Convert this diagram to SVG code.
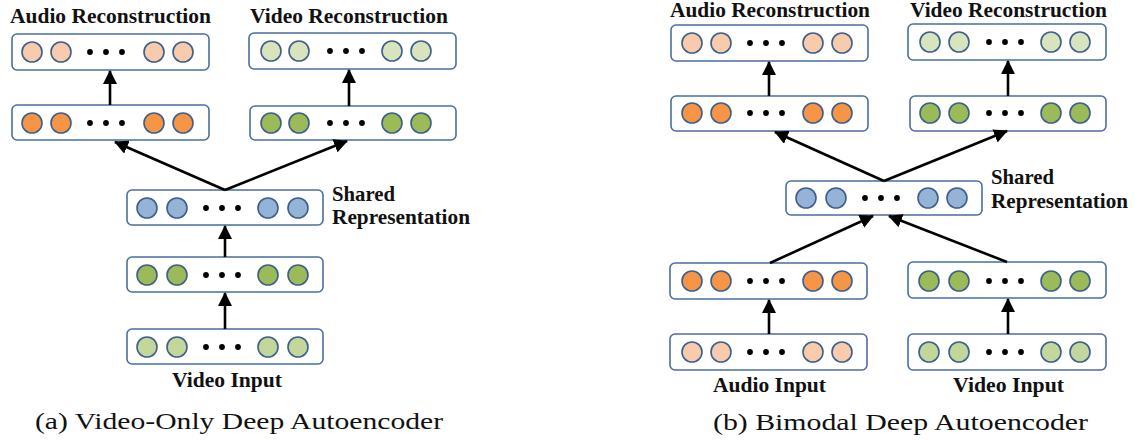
<svg xmlns="http://www.w3.org/2000/svg" width="1135" height="440" viewBox="0 0 1135 440">
<style>
.box{fill:#ffffff;stroke:#4a6e9e;stroke-width:1.6}
.c{stroke:#3e5f8c;stroke-width:1.6}
.lo{fill:#f8cbad}
.o{fill:#f69546}
.lg{fill:#d8e4bd}
.g{fill:#9bbb59}
.ig{fill:#c3d69b}
.b{fill:#95b3d7}
.lbl{font-family:"Liberation Serif",serif;font-weight:bold;font-size:20px;fill:#111}
.cap{font-family:"Liberation Serif",serif;font-size:24px;fill:#111}
.arr{stroke:#000;stroke-width:2.6;fill:none;marker-end:url(#ah)}
</style>
<defs>
<marker id="ah" markerUnits="userSpaceOnUse" markerWidth="14" markerHeight="14" refX="13" refY="7" orient="auto" viewBox="0 0 14 14">
<path d="M0,0 L14,7 L0,14 z" fill="#000"/>
</marker>
<g id="dots"><circle cx="0" cy="0" r="2.9"/><circle cx="16" cy="0" r="2.9"/><circle cx="32" cy="0" r="2.9"/></g>
</defs>

<!-- Left: Video-only -->
<text class="lbl" x="10" y="23" textLength="201" lengthAdjust="spacingAndGlyphs">Audio Reconstruction</text>
<text class="lbl" x="250" y="23" textLength="198" lengthAdjust="spacingAndGlyphs">Video Reconstruction</text>

<g id="a-audio-recon">
<rect class="box" x="12" y="34" width="197" height="36" rx="5"/>
<g class="c lo"><circle cx="32" cy="52" r="10"/><circle cx="61" cy="52" r="10"/><circle cx="154" cy="52" r="10"/><circle cx="183" cy="52" r="10"/></g>
<use href="#dots" x="90" y="52"/>
</g>
<g id="a-video-recon">
<rect class="box" x="249" y="33" width="207" height="36" rx="5"/>
<g class="c lg"><circle cx="271" cy="51" r="10"/><circle cx="299" cy="51" r="10"/><circle cx="392" cy="51" r="10"/><circle cx="421" cy="51" r="10"/></g>
<use href="#dots" x="330" y="51"/>
</g>
<g id="a-audio-hidden">
<rect class="box" x="12" y="105" width="197" height="35" rx="5"/>
<g class="c o"><circle cx="32" cy="123" r="10"/><circle cx="61" cy="123" r="10"/><circle cx="154" cy="123" r="10"/><circle cx="183" cy="123" r="10"/></g>
<use href="#dots" x="90" y="123"/>
</g>
<g id="a-video-hidden">
<rect class="box" x="250" y="106" width="206" height="34" rx="5"/>
<g class="c g"><circle cx="271" cy="123" r="10"/><circle cx="299" cy="123" r="10"/><circle cx="392" cy="123" r="10"/><circle cx="421" cy="123" r="10"/></g>
<use href="#dots" x="330" y="123"/>
</g>
<g id="a-shared">
<rect class="box" x="127" y="190" width="196" height="35" rx="5"/>
<g class="c b"><circle cx="147" cy="208" r="10"/><circle cx="177" cy="208" r="10"/><circle cx="268" cy="208" r="10"/><circle cx="298" cy="208" r="10"/></g>
<use href="#dots" x="206" y="208"/>
<text class="lbl" x="332" y="201" textLength="63" lengthAdjust="spacingAndGlyphs">Shared</text>
<text class="lbl" x="332" y="224" textLength="138" lengthAdjust="spacingAndGlyphs">Representation</text>
</g>
<g id="a-video-hidden-enc">
<rect class="box" x="127" y="257" width="196" height="35" rx="5"/>
<g class="c g"><circle cx="147" cy="275" r="10"/><circle cx="177" cy="275" r="10"/><circle cx="268" cy="275" r="10"/><circle cx="298" cy="275" r="10"/></g>
<use href="#dots" x="206" y="275"/>
</g>
<g id="a-video-input">
<rect class="box" x="127" y="329" width="196" height="35" rx="5"/>
<g class="c ig"><circle cx="147" cy="347" r="10"/><circle cx="177" cy="347" r="10"/><circle cx="268" cy="347" r="10"/><circle cx="298" cy="347" r="10"/></g>
<use href="#dots" x="206" y="347"/>
<text class="lbl" x="172" y="387" textLength="110" lengthAdjust="spacingAndGlyphs">Video Input</text>
</g>
<text class="cap" x="35" y="429" textLength="408" lengthAdjust="spacingAndGlyphs">(a) Video-Only Deep Autoencoder</text>

<!-- Right: Bimodal -->
<text class="lbl" x="670" y="17" textLength="200" lengthAdjust="spacingAndGlyphs">Audio Reconstruction</text>
<text class="lbl" x="910" y="17" textLength="197" lengthAdjust="spacingAndGlyphs">Video Reconstruction</text>

<g id="b-audio-recon">
<rect class="box" x="671" y="25" width="197" height="36" rx="5"/>
<g class="c lo"><circle cx="692" cy="43" r="10"/><circle cx="721" cy="43" r="10"/><circle cx="813" cy="43" r="10"/><circle cx="842" cy="43" r="10"/></g>
<use href="#dots" x="750" y="43"/>
</g>
<g id="b-video-recon">
<rect class="box" x="908" y="24" width="198" height="36" rx="5"/>
<g class="c lg"><circle cx="930" cy="42" r="10"/><circle cx="959" cy="42" r="10"/><circle cx="1051" cy="42" r="10"/><circle cx="1080" cy="42" r="10"/></g>
<use href="#dots" x="989" y="42"/>
</g>
<g id="b-audio-hidden-dec">
<rect class="box" x="671" y="96" width="197" height="35" rx="5"/>
<g class="c o"><circle cx="692" cy="113" r="10"/><circle cx="721" cy="113" r="10"/><circle cx="813" cy="113" r="10"/><circle cx="842" cy="113" r="10"/></g>
<use href="#dots" x="750" y="113"/>
</g>
<g id="b-video-hidden-dec">
<rect class="box" x="910" y="96" width="196" height="35" rx="5"/>
<g class="c g"><circle cx="930" cy="113" r="10"/><circle cx="959" cy="113" r="10"/><circle cx="1051" cy="113" r="10"/><circle cx="1080" cy="113" r="10"/></g>
<use href="#dots" x="989" y="113"/>
</g>
<g id="b-shared">
<rect class="box" x="786" y="181" width="196" height="34" rx="5"/>
<g class="c b"><circle cx="806" cy="198" r="10"/><circle cx="836" cy="198" r="10"/><circle cx="928" cy="198" r="10"/><circle cx="957" cy="198" r="10"/></g>
<use href="#dots" x="865" y="198"/>
<text class="lbl" x="991" y="184" textLength="63" lengthAdjust="spacingAndGlyphs">Shared</text>
<text class="lbl" x="991" y="208" textLength="137" lengthAdjust="spacingAndGlyphs">Representation</text>
</g>
<g id="b-audio-hidden-enc">
<rect class="box" x="670" y="263" width="197" height="36" rx="5"/>
<g class="c o"><circle cx="692" cy="281" r="10"/><circle cx="721" cy="281" r="10"/><circle cx="813" cy="281" r="10"/><circle cx="842" cy="281" r="10"/></g>
<use href="#dots" x="750" y="281"/>
</g>
<g id="b-video-hidden-enc">
<rect class="box" x="908" y="262" width="198" height="36" rx="5"/>
<g class="c g"><circle cx="929" cy="281" r="10"/><circle cx="959" cy="281" r="10"/><circle cx="1051" cy="281" r="10"/><circle cx="1080" cy="281" r="10"/></g>
<use href="#dots" x="989" y="281"/>
</g>
<g id="b-audio-input">
<rect class="box" x="670" y="334" width="197" height="36" rx="5"/>
<g class="c lo"><circle cx="692" cy="352" r="10"/><circle cx="721" cy="352" r="10"/><circle cx="813" cy="352" r="10"/><circle cx="842" cy="352" r="10"/></g>
<use href="#dots" x="750" y="352"/>
<text class="lbl" x="713" y="392" textLength="113" lengthAdjust="spacingAndGlyphs">Audio Input</text>
</g>
<g id="b-video-input">
<rect class="box" x="908" y="334" width="198" height="36" rx="5"/>
<g class="c ig"><circle cx="929" cy="352" r="10"/><circle cx="959" cy="352" r="10"/><circle cx="1051" cy="352" r="10"/><circle cx="1080" cy="352" r="10"/></g>
<use href="#dots" x="989" y="352"/>
<text class="lbl" x="953" y="392" textLength="111" lengthAdjust="spacingAndGlyphs">Video Input</text>
</g>
<text class="cap" x="713" y="430" textLength="375" lengthAdjust="spacingAndGlyphs">(b) Bimodal Deep Autoencoder</text>

<g id="connectors">
<line class="arr" x1="110" y1="105" x2="110" y2="71"/>
<line class="arr" x1="349" y1="106" x2="349" y2="70"/>
<line class="arr" x1="225" y1="190" x2="115" y2="142"/>
<line class="arr" x1="225" y1="190" x2="347" y2="141"/>
<line class="arr" x1="225" y1="257" x2="225" y2="226"/>
<line class="arr" x1="225" y1="329" x2="225" y2="293"/>
<line class="arr" x1="769" y1="96" x2="769" y2="62"/>
<line class="arr" x1="1008" y1="96" x2="1008" y2="61"/>
<line class="arr" x1="884" y1="181" x2="775" y2="132"/>
<line class="arr" x1="884" y1="181" x2="1007" y2="131"/>
<line class="arr" x1="770" y1="263" x2="873" y2="216"/>
<line class="arr" x1="1007" y1="262" x2="889" y2="216"/>
<line class="arr" x1="769" y1="334" x2="769" y2="300"/>
<line class="arr" x1="1008" y1="334" x2="1008" y2="299"/>
</g>
</svg>
